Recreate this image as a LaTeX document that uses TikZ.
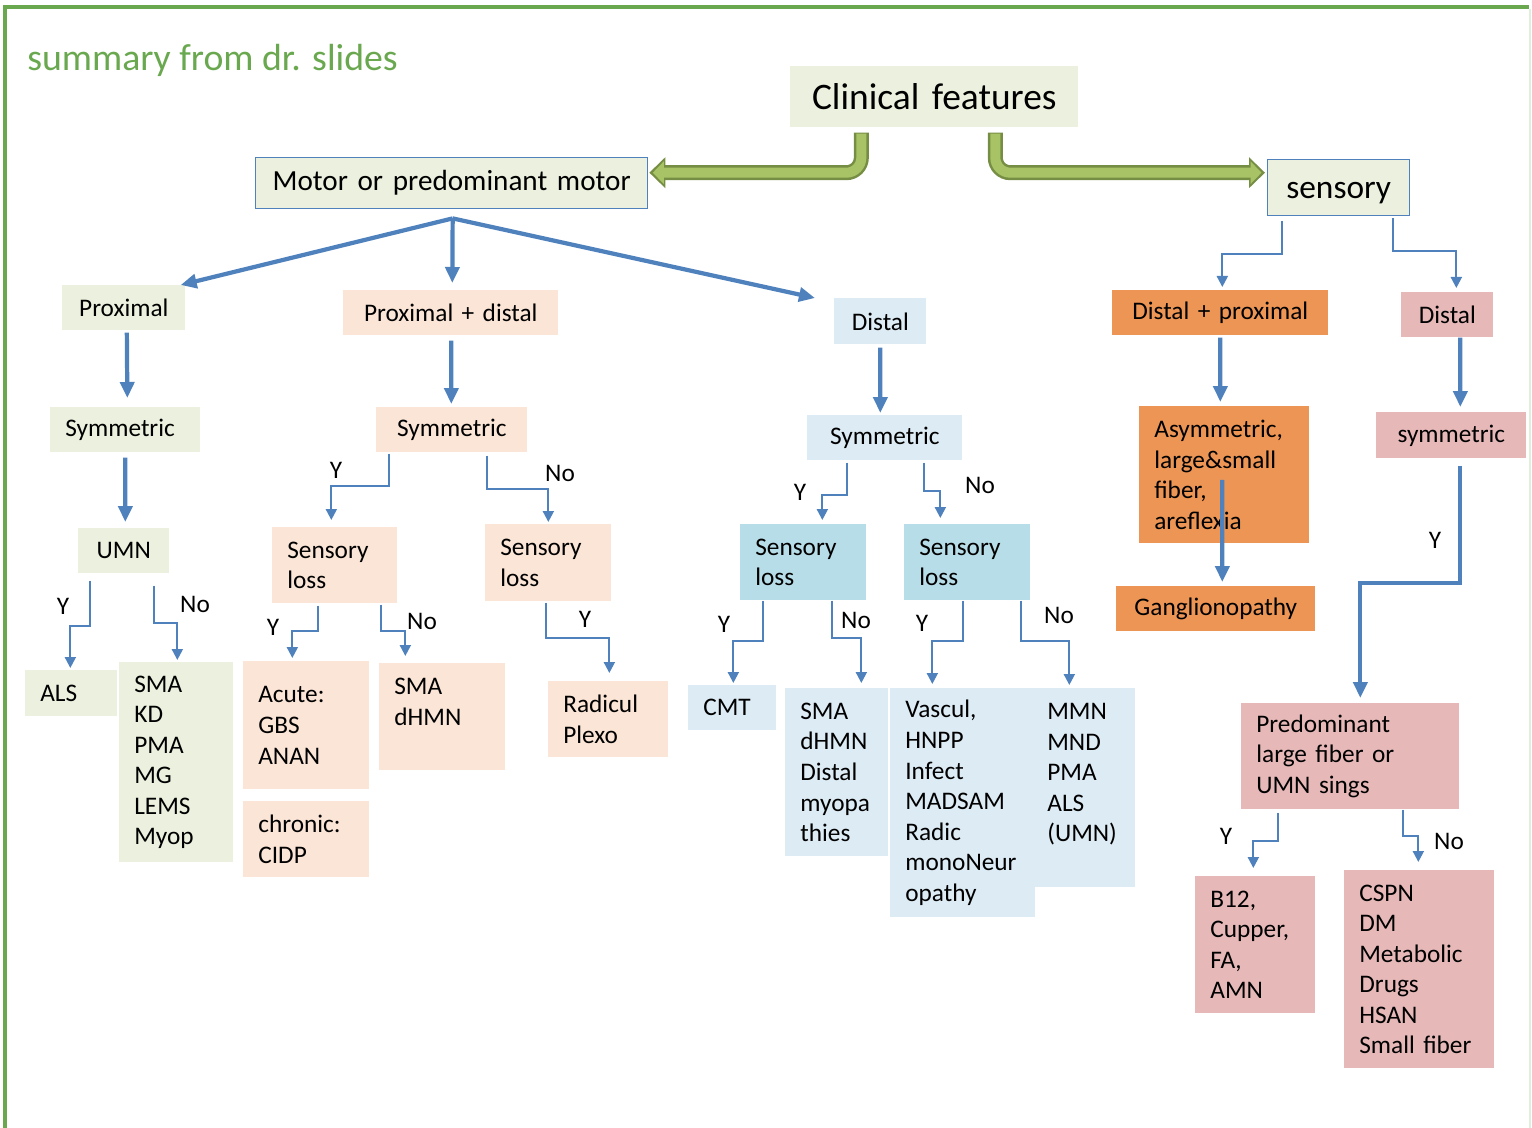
\documentclass[tikz,border=0pt]{standalone}
\usepackage{fontspec}
\setmainfont{Carlito}
\usetikzlibrary{arrows.meta, positioning, calc}
\definecolor{motorgreen}{RGB}{235,241,222}
\definecolor{peachbox}{RGB}{251,229,214}
\definecolor{paleblue}{RGB}{221,235,244}
\definecolor{lossblue}{RGB}{183,221,232}
\definecolor{orangebox}{RGB}{237,149,84}
\definecolor{pinkbox}{RGB}{230,185,184}
\definecolor{linkblue}{RGB}{79,129,189}
\definecolor{framegreen}{RGB}{106,168,79}
\definecolor{arrowfill}{RGB}{168,195,102}
\definecolor{arrowedge}{RGB}{118,142,68}
\newcommand{\boxfont}{\fontsize{14.4}{17.4}\selectfont}
\hyphenpenalty=10000
\tikzset{
  cbox/.style={rectangle, anchor=north west, inner xsep=0.3cm, inner ysep=0pt, align=left, font=\boxfont},
  gbox/.style={cbox, fill=motorgreen},
  pbox/.style={cbox, fill=peachbox},
  bbox/.style={cbox, fill=paleblue},
  lbox/.style={cbox, fill=lossblue},
  obox/.style={cbox, fill=orangebox},
  rbox/.style={cbox, fill=pinkbox},
  elb/.style={draw=linkblue, line width=1.2pt, -{Triangle[length=0.22cm, width=0.22cm]}},
  thk/.style={draw=linkblue, line width=2.4pt, -{Triangle[length=0.32cm, width=0.28cm]}},
  yn/.style={font=\boxfont, inner sep=1pt}
}

\begin{document}
\begin{tikzpicture}[x=0.02cm, y=-0.02cm]
    \useasboundingbox (0,0) rectangle (1532,1128);
    \draw[framegreen, line width=0.08cm] (5,1128) -- (5,7) -- (1529,7);
    \draw[framegreen!20, line width=0.6pt] (1530,9) -- (1530,1128);
    \node[anchor=west, text=framegreen, inner sep=0pt, font=\fontsize{21.5}{26}\selectfont] (title) at (27,60) {summary from dr. slides};

    \node[gbox, align=center, text width=5.16cm, minimum height=1.22cm, font=\fontsize{21.3}{25}\selectfont] (cf) at (790,66) {Clinical features};
    \node[gbox, draw=linkblue, line width=0.8pt, align=center, text width=7.24cm, minimum height=1.02cm, font=\fontsize{16.6}{20}\selectfont] (motor) at (255,157) {Motor or predominant motor};
    \node[gbox, draw=linkblue, line width=0.8pt, align=center, text width=2.24cm, minimum height=1.12cm, text height=0.55cm, text depth=0.1cm, font=\fontsize{19}{23}\selectfont] (sensory) at (1267,159) {sensory};

    \node[gbox, align=center, text width=1.86cm, minimum height=0.9cm] (prox) at (62,285) {Proximal};
    \node[pbox, align=center, text width=3.7cm, minimum height=0.9cm] (proxdist) at (343,290) {Proximal + distal};
    \node[bbox, align=center, text width=1.24cm, minimum height=0.92cm] (dist) at (834,298) {Distal};
    \node[gbox, text width=2.4cm, minimum height=0.9cm] (proxsym) at (50,407) {Symmetric};
    \node[pbox, align=center, text width=2.42cm, minimum height=0.9cm] (pdsym) at (376,407) {Symmetric};
    \node[bbox, align=center, text width=2.5cm, minimum height=0.9cm] (distsym) at (807,415) {Symmetric};
    \node[gbox, align=center, text width=1.22cm, minimum height=0.9cm] (umn) at (78,528) {UMN};
    \node[gbox, text width=1.24cm, minimum height=0.92cm] (als) at (25,670) {ALS};
    \node[gbox, text width=1.68cm, minimum height=4cm] (smalist) at (119,662) {SMA\\KD\\PMA\\MG\\LEMS\\Myop};
    \node[pbox, text width=1.9cm, minimum height=1.52cm] (pdlossy) at (272,527) {Sensory\\loss};
    \node[pbox, text width=1.92cm, minimum height=1.54cm] (pdlossn) at (485,524) {Sensory\\loss};
    \node[pbox, text width=1.92cm, minimum height=2.56cm] (acute) at (243,661) {Acute:\\GBS\\ANAN};
    \node[pbox, text width=1.92cm, minimum height=1.52cm] (chronic) at (243,801) {chronic:\\CIDP};
    \node[pbox, text width=1.92cm, minimum height=2.14cm] (smadhmn) at (379,663) {SMA\\dHMN\\~};
    \node[pbox, text width=1.8cm, minimum height=1.52cm] (radic) at (548,681) {Radicul\\Plexo};
    \node[lbox, text width=1.92cm, minimum height=1.52cm] (dlossy) at (740,524) {Sensory\\loss};
    \node[lbox, text width=1.92cm, minimum height=1.52cm] (dlossn) at (904,524) {Sensory\\loss};
    \node[bbox, text width=1.16cm, minimum height=0.9cm] (cmt) at (688,685) {CMT};
    \node[bbox, text width=1.46cm, minimum height=3.36cm] (distmyo) at (785,688) {SMA\\dHMN\\Distal\\myopa\\thies};
    \node[bbox, text width=2.3cm, minimum height=4.58cm] (vascul) at (890,688) {Vascul,\\HNPP\\Infect\\MADSAM\\Radic\\monoNeur\\opathy};
    \node[bbox, text width=1.46cm, minimum height=3.98cm] (mmn) at (1032,688) {MMN\\MND\\PMA\\ALS\\(UMN)\\~};

    \node[obox, align=center, text width=3.72cm, minimum height=0.9cm] (distprox) at (1112,290) {Distal + proximal};
    \node[rbox, align=center, text width=1.24cm, minimum height=0.9cm] (sdist) at (1401,292) {Distal};
    \node[obox, text width=2.8cm, minimum height=2.74cm] (asym) at (1139,406) {Asymmetric,\\large\&small\\fiber,\\areflexia};
    \node[rbox, align=center, text width=2.4cm, minimum height=0.92cm] (ssym) at (1376,412) {symmetric};
    \node[obox, align=center, text width=3.38cm, minimum height=0.9cm] (gangl) at (1116,586) {Ganglionopathy};
    \node[rbox, text width=3.76cm, minimum height=2.12cm] (predom) at (1241,703) {Predominant\\large fiber or\\UMN sings};
    \node[rbox, text width=1.8cm, minimum height=2.74cm] (btwelve) at (1195,876) {B12,\\Cupper,\\FA,\\AMN};
    \node[rbox, text width=2.4cm, minimum height=3.96cm] (cspn) at (1344,870) {CSPN\\DM\\Metabolic\\Drugs\\HSAN\\Small fiber};

    \draw[arrowedge, line width=0.3cm, rounded corners=0.3cm, -{Triangle[length=0.32cm, width=0.6cm]}] ($(cf.south)+(-73,5)$) |- ($(motor.east)+(1,-10.5)$);
    \draw[arrowfill, line width=0.2cm, rounded corners=0.3cm, shorten >=0.07cm, -{Triangle[length=0.22cm, width=0.44cm]}] ($(cf.south)+(-73,6)$) |- ($(motor.east)+(1,-10.5)$);
    \draw[arrowedge, line width=0.3cm, rounded corners=0.3cm, -{Triangle[length=0.32cm, width=0.6cm]}] ($(cf.south)+(61,5)$) |- ($(sensory.west)+(-2,-15)$);
    \draw[arrowfill, line width=0.2cm, rounded corners=0.3cm, shorten >=0.07cm, -{Triangle[length=0.22cm, width=0.44cm]}] ($(cf.south)+(61,6)$) |- ($(sensory.west)+(-2,-15)$);

    \coordinate (fork) at ($(motor.south)+(1,9)$);
    \draw[thk] (fork) -- ($(prox.north east)+(-5,0)$);
    \draw[thk] (fork) -- ($(proxdist.north)+(1.5,-7)$);
    \draw[thk] (fork) -- ($(dist.north west)+(-19,0)$);

    \draw[thk] ($(prox.south)+(3,2)$) -- ($(proxsym.north)+(2,-9)$);
    \draw[thk] ($(proxdist.south)+(0.5,5)$) -- ($(pdsym.north)+(-0.5,-3)$);
    \draw[thk] ($(dist.south)+(0,3)$) -- ($(distsym.north)+(-4.5,-2)$);
    \draw[thk] ($(proxsym.south)+(0,5)$) -- ($(umn.north)+(1.5,-6)$);
    \draw[thk] ($(distprox.south)+(0,2)$) -- ($(asym.north)+(-4,-4)$);
    \draw[thk] ($(sdist.south)+(13,0)$) -- ($(ssym.north)+(9,-5)$);
    \draw[thk] ($(asym.center)+(-2,5)$) -- ($(gangl.north)+(6.5,-4)$);
    \draw[thk] ($(ssym.south)+(9,7)$) -- ++(0,117) -| ($(predom.north)+(10,-5)$);

    \draw[elb] ($(umn.south)+(-33.5,7)$) -- ++(0,45) -| ($(als.north)+(-1,-2)$);
    \draw[elb] ($(umn.south)+(30.5,12)$) -- ++(0,37) -| ($(smalist.north)+(1,-2)$);
    \draw[elb] ($(pdsym.south)+(-62.5,1)$) -- ++(0,32) -| ($(pdlossy.north)+(-3.5,-7)$);
    \draw[elb] ($(pdsym.south)+(35.5,3)$) -- ++(0,33) -| ($(pdlossn.north)+(0,-2)$);
    \draw[elb] ($(pdlossy.south)+(-16.5,2)$) -- ++(0,25) -| ($(acute.north)+(-14,-3)$);
    \draw[elb] ($(pdlossy.south)+(46.5,1)$) -- ++(0,26) -| ($(smadhmn.north)+(-37,-7)$);
    \draw[elb] ($(pdlossn.south)+(-2,1)$) -- ++(0,35) -| ($(radic.north)+(1,-8)$);
    \draw[elb] ($(distsym.south)+(-37.5,2)$) -- ++(0,32) -| ($(dlossy.north)+(19,-4)$);
    \draw[elb] ($(distsym.south)+(39.5,2)$) -- ++(0,28) -| ($(dlossn.north)+(-27,-6)$);
    \draw[elb] ($(dlossy.south)+(-40,0)$) -- ++(0,40) -| ($(cmt.north)+(1,-2)$);
    \draw[elb] ($(dlossy.south)+(29,0)$) -- ++(0,37) -| ($(distmyo.north)+(24.5,-5)$);
    \draw[elb] ($(dlossn.south)+(-4,0)$) -- ++(0,40) -| ($(vascul.north)+(-30.5,-4)$);
    \draw[elb] ($(dlossn.south)+(54,0)$) -- ++(0,40) -| ($(mmn.north)+(-14.5,-3)$);
    \draw[elb] ($(sensory.south)+(-57,5)$) -- ++(0,33) -| ($(distprox.north)+(2,-3)$);
    \draw[elb] ($(sensory.south)+(54,2)$) -- ++(0,33) -| ($(sdist.north)+(9,-4)$);
    \draw[elb] ($(predom.south)+(-72,3)$) -- ++(0,28) -| ($(btwelve.north)+(-2,-8)$);
    \draw[elb] ($(predom.south)+(53,0)$) -- ++(0,26) -| ($(cspn.north)+(-1,-8)$);

    \foreach \lx/\ly/\lt [count=\i] in {63/606/Y, 195/604/No, 336/470/Y, 560/473/No,
        273/627/Y, 422/621/No, 585/619/Y, 800/492/Y, 980/485/No, 724/624/Y, 856/620/No,
        922/623/Y, 1059/615/No, 1435/540/Y, 1226/836/Y, 1449/841/No}
        \node[yn] (yn\i) at (\lx,\ly) {\lt};
\end{tikzpicture}
\end{document}
